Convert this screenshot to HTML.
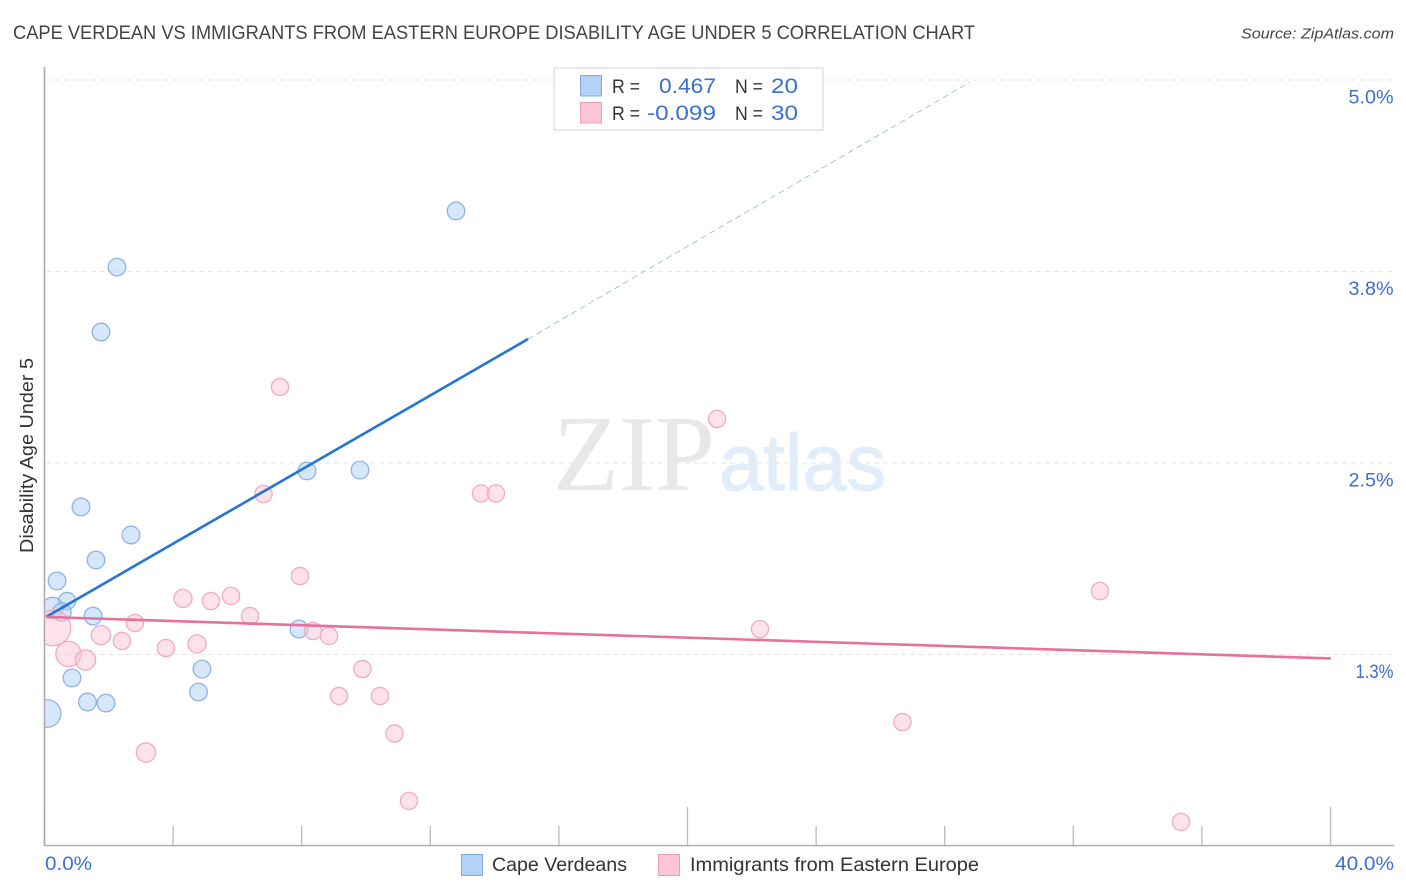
<!DOCTYPE html>
<html lang="en">
<head>
<meta charset="utf-8">
<title>Cape Verdean vs Immigrants from Eastern Europe Disability Age Under 5 Correlation Chart</title>
<style>
  html, body { margin: 0; padding: 0; background: #fff; }
  svg { display: block; font-family: "Liberation Sans", sans-serif; }
</style>
</head>
<body>
<svg id="chart" width="1406" height="892" viewBox="0 0 1406 892" xmlns="http://www.w3.org/2000/svg">
  <defs>
    <clipPath id="plot-clip"><rect x="45" y="60" width="1349" height="786"/></clipPath>
  </defs>
  <rect x="0" y="0" width="1406" height="892" fill="#ffffff"/>

  <text x="13" y="39" font-size="19" fill="#444" textLength="962" lengthAdjust="spacingAndGlyphs">CAPE VERDEAN VS IMMIGRANTS FROM EASTERN EUROPE DISABILITY AGE UNDER 5 CORRELATION CHART</text>
  <text x="1241" y="38.5" font-size="15" font-style="italic" fill="#444" textLength="153" lengthAdjust="spacingAndGlyphs">Source: ZipAtlas.com</text>

  <g>
    <text x="553" y="490" font-family="'Liberation Serif', serif" font-size="108" fill="#e8e8e8" textLength="162" lengthAdjust="spacingAndGlyphs">ZIP</text>
    <text x="719" y="490" font-family="'Liberation Sans', sans-serif" font-size="80" fill="#e2edfa" stroke="#e2edfa" stroke-width="1" textLength="167" lengthAdjust="spacingAndGlyphs">atlas</text>
  </g>

  <g id="grid"></g>
  <g id="y-labels"></g>
  <g id="x-ticks"></g>
  <line x1="44.5" y1="67" x2="44.5" y2="846" stroke="#aaaaaa" stroke-width="1.6"/>
  <line x1="44" y1="845.6" x2="1394" y2="845.6" stroke="#aaaaaa" stroke-width="1.4"/>

  <g id="points" clip-path="url(#plot-clip)"></g>
  <g id="trends"></g>

  <g>
    <rect x="554" y="68" width="269" height="62" fill="#ffffff" stroke="#dddddd" stroke-width="1.2"/>
    <rect x="580.5" y="75.5" width="21" height="20.5" fill="#b4d2f8" stroke="#7fabe3" stroke-width="1"/>
    <rect x="580.5" y="102.5" width="21" height="20.5" fill="#fcc5d6" stroke="#ee9db6" stroke-width="1"/>
    <text x="612" y="93" font-size="19" fill="#333" textLength="28" lengthAdjust="spacingAndGlyphs">R =</text>
    <text x="659" y="93" font-size="21" fill="#3b70cf" textLength="57" lengthAdjust="spacingAndGlyphs">0.467</text>
    <text x="735" y="93" font-size="19" fill="#333" textLength="28" lengthAdjust="spacingAndGlyphs">N =</text>
    <text x="771" y="93" font-size="21" fill="#3b70cf" textLength="27" lengthAdjust="spacingAndGlyphs">20</text>
    <text x="612" y="120" font-size="19" fill="#333" textLength="28" lengthAdjust="spacingAndGlyphs">R =</text>
    <text x="647" y="120" font-size="21" fill="#3b70cf" textLength="69" lengthAdjust="spacingAndGlyphs">-0.099</text>
    <text x="735" y="120" font-size="19" fill="#333" textLength="28" lengthAdjust="spacingAndGlyphs">N =</text>
    <text x="771" y="120" font-size="21" fill="#3b70cf" textLength="27" lengthAdjust="spacingAndGlyphs">30</text>
  </g>

  <text transform="translate(33,553) rotate(-90)" x="0" y="0" font-size="18" fill="#333" textLength="195" lengthAdjust="spacingAndGlyphs">Disability Age Under 5</text>

  <text x="45" y="870" font-size="19" fill="#3b70cf" textLength="47" lengthAdjust="spacingAndGlyphs">0.0%</text>
  <text x="1335" y="870" font-size="19" fill="#3b70cf" textLength="59" lengthAdjust="spacingAndGlyphs">40.0%</text>

  <g>
    <rect x="461.5" y="854.5" width="21" height="21" fill="#b4d2f8" stroke="#7fabe3" stroke-width="1"/>
    <text x="492" y="871" font-size="19" fill="#333" textLength="135" lengthAdjust="spacingAndGlyphs">Cape Verdeans</text>
    <rect x="658.5" y="854.5" width="21" height="21" fill="#fcc5d6" stroke="#ee9db6" stroke-width="1"/>
    <text x="690" y="871" font-size="19" fill="#333" textLength="289" lengthAdjust="spacingAndGlyphs">Immigrants from Eastern Europe</text>
  </g>
</svg>

<script>
const yTicks = [5.0, 3.75, 2.5, 1.25];
const yTickLabels = ["5.0%", "3.8%", "2.5%", "1.3%"];
const xTicks = [0, 4, 8, 12, 16, 20, 24, 28, 32, 36, 40];
const xMajorTicks = [0, 20, 40];

const capeX = [12.80, 2.255, 1.757, 9.813, 8.165, 1.135, 2.690, 1.602, 0.389, 0.700, 0.252, 0.544, 1.509, 7.916, 4.899, 0.855, 4.790, 1.337, 1.913, 0.078];
const capeY = [4.145, 3.779, 3.355, 2.454, 2.448, 2.213, 2.030, 1.867, 1.730, 1.599, 1.554, 1.527, 1.501, 1.416, 1.155, 1.097, 1.005, 0.940, 0.933, 0.865];
const capeWeight = [1.05, 1.05, 1.05, 1.05, 1.05, 1.05, 1.05, 1.05, 1.05, 1, 1.53, 1.12, 1.05, 1.05, 1.05, 1.05, 1.05, 1.05, 1.05, 2.6];

const europeX = [7.325, 20.918, 6.812, 13.577, 14.044, 7.947, 32.830, 5.801, 4.308, 5.179, 6.392, 2.815, 0.264, 8.351, 8.849, 1.757, 2.411, 4.743, 3.779, 0.746, 22.255, 1.275, 9.891, 9.160, 10.435, 26.687, 10.886, 3.157, 11.337, 35.350];
const europeY = [2.996, 2.787, 2.298, 2.301, 2.301, 1.762, 1.664, 1.632, 1.616, 1.599, 1.501, 1.456, 1.423, 1.403, 1.371, 1.377, 1.338, 1.319, 1.292, 1.253, 1.416, 1.214, 1.155, 0.979, 0.979, 0.809, 0.734, 0.610, 0.294, 0.157];
const europeWeight = [1, 1, 1, 1, 1, 1, 1, 1, 1.1, 1, 1, 1, 4.24, 1, 1, 1.25, 1, 1.1, 1, 2.16, 1, 1.38, 1, 1, 1, 1, 1, 1.25, 1, 1];

const capeFitX = [0.047, 15.04];
const capeFitY = [1.495, 3.309];
const capeProjectedX = [15.04, 28.79];
const capeProjectedY = [3.309, 4.987];
const europeFitX = [0.047, 40.01];
const europeFitY = [1.495, 1.224];

const SVG_NS = "http://www.w3.org/2000/svg";
function xScale(v) { return 44.5 + v * 32.15; }
function yScale(v) { return 80 + (5 - v) * 153.2; }
function rScale(w) { return 8.6 * Math.sqrt(w); }
function make(tag, attrs, parent) {
  const el = document.createElementNS(SVG_NS, tag);
  for (const k in attrs) el.setAttribute(k, attrs[k]);
  parent.appendChild(el);
  return el;
}

const gridGroup = document.getElementById("grid");
const yLabelGroup = document.getElementById("y-labels");
yTicks.forEach(function (t, i) {
  const line = make("line", { x1: 46, x2: 1394, y1: yScale(t), y2: yScale(t), stroke: "#e6e6e6", "stroke-width": 1, "stroke-dasharray": "5 4" }, gridGroup);
  
  
  const labelText = yTickLabels[i];
  const labelWidth = labelText.charAt(0) === "1" ? 38 : 45;
  const label = make("text", { x: 1393.5 - labelWidth, y: yScale(t) + 23.5, "font-size": 19, fill: "#3b70cf", textLength: labelWidth, lengthAdjust: "spacingAndGlyphs" }, yLabelGroup);
  label.textContent = labelText;
  
  
});

const xTickGroup = document.getElementById("x-ticks");
xTicks.forEach(function (t) {
  const top = xMajorTicks.includes(t) ? 807 : 826;
  const tick = make("line", { x1: xScale(t), x2: xScale(t), y1: top, y2: 846, stroke: "#bbbbbb", "stroke-width": 1.3 }, xTickGroup);
  
  
});

const pointGroup = document.getElementById("points");
capeX.forEach(function (v, i) {
  const c = make("circle", { cx: xScale(v), cy: yScale(capeY[i]), r: rScale(capeWeight[i]), fill: "#b4d2f8", "fill-opacity": 0.55, stroke: "#8db4e8", "stroke-width": 1.3 }, pointGroup);
  
  
});
europeX.forEach(function (v, i) {
  const c = make("circle", { cx: xScale(v), cy: yScale(europeY[i]), r: rScale(europeWeight[i]), fill: "#fcc5d6", "fill-opacity": 0.5, stroke: "#f0abc1", "stroke-width": 1.3 }, pointGroup);
  
  
});

const trendGroup = document.getElementById("trends");
const capeProjected = make("line", { x1: xScale(capeProjectedX[0]), y1: yScale(capeProjectedY[0]), x2: xScale(capeProjectedX[1]), y2: yScale(capeProjectedY[1]), stroke: "#a3c2ea", "stroke-width": 1, "stroke-dasharray": "6 4" }, trendGroup);


const capeFit = make("line", { x1: xScale(capeFitX[0]), y1: yScale(capeFitY[0]), x2: xScale(capeFitX[1]), y2: yScale(capeFitY[1]), stroke: "#2474d8", "stroke-width": 2.6 }, trendGroup);


const europeFit = make("line", { x1: xScale(europeFitX[0]), y1: yScale(europeFitY[0]), x2: xScale(europeFitX[1]), y2: yScale(europeFitY[1]), stroke: "#e8709c", "stroke-width": 2.6 }, trendGroup);


</script>
</body>
</html>
